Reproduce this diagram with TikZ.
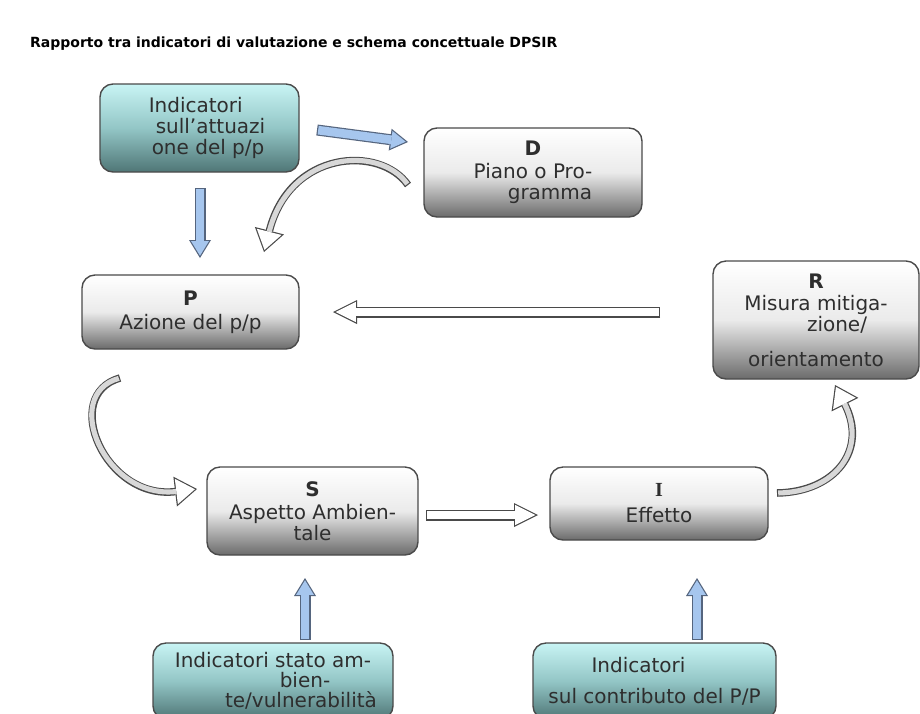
\documentclass[tikz,border=0pt]{standalone}
\usepackage{fontspec}
\setmainfont{DejaVu Sans}
\newfontfamily\serifI{Liberation Serif}
\usetikzlibrary{arrows.meta}
\definecolor{boxline}{HTML}{4A4A4A}
\definecolor{tealtop}{HTML}{C8F4F4}
\definecolor{tealmid}{HTML}{93C6C6}
\definecolor{tealbot}{HTML}{4F7676}
\definecolor{bluefill}{HTML}{A6C6EE}
\definecolor{blueline}{HTML}{55657E}
\definecolor{shaftgray}{HTML}{D8D8D8}
\definecolor{txtcol}{HTML}{2E2E2E}
\begin{document}
\begin{tikzpicture}[x=1pt,y=-1pt,
  basebox/.style={draw=boxline, line width=1.4pt, rounded corners=13pt, align=center, inner sep=0pt,
    text=txtcol, font=\fontsize{20}{21}\selectfont},
  graybox/.style={basebox, top color=white, bottom color=black!58, middle color=black!8},
  tealbox/.style={basebox, top color=tealtop, bottom color=tealbot, middle color=tealmid},
  bluearrow/.style={
    preaction={draw=blueline, line width=11pt, shorten >=0pt, shorten <=0pt,
      -{Triangle[length=18pt,width=22pt,line width=0pt]}},
    draw=bluefill, line width=8.6pt, shorten >=2.3pt, shorten <=1.2pt,
    -{Triangle[length=14.5pt,width=17.7pt,line width=0pt]}},
  hollowstraight/.style={
    preaction={draw=boxline, line width=11pt, shorten >=0pt, shorten <=0pt,
      -{Triangle[length=24pt,width=24pt,line width=0pt]}},
    draw=white, line width=8.6pt, shorten >=2.7pt, shorten <=1.2pt,
    -{Triangle[length=20.1pt,width=20.1pt,line width=0pt]}},
  hollowcurve/.style={
    preaction={draw=boxline, line width=7.5pt, shorten >=0pt, shorten <=0pt,
      -{Triangle[length=22pt,width=30pt,line width=0pt]}},
    draw=shaftgray, line width=5.1pt, shorten >=2.1pt, shorten <=1.2pt,
    -{Triangle[length=18.7pt,width=25.5pt,line width=0pt,fill=white]}}
]
\useasboundingbox (0,0) rectangle (920,713);
\clip (0,0) rectangle (920,713);
\fill[white] (0,0) rectangle (920,713);

% title
\node[anchor=base west, inner sep=0pt, font=\bfseries\fontsize{14}{17}\selectfont] (title) at (30,47)
  {Rapporto tra indicatori di valutazione e schema concettuale DPSIR};

% boxes
\node[tealbox, align=left, minimum width=199pt, minimum height=88pt] (T1) at (199.5,128)
  {\hspace*{15pt}Indicatori\\\hspace*{22pt}sull’attuazi\\\hspace*{18pt}one del p/p};
\node[graybox, minimum width=218pt, minimum height=89pt] (D) at (533,172.5)
  {\textbf{D}\\[2pt]Piano o Pro-\\\hspace*{34pt}gramma};
\node[graybox, minimum width=217pt, minimum height=74pt] (P) at (190.5,312)
  {\textbf{P}\\[3pt]Azione del p/p};
\node[graybox, minimum width=206pt, minimum height=118pt] (R) at (816,320)
  {\textbf{R}\\[1pt]Misura mitiga-\\\hspace*{42pt}zione/\\[14pt]orientamento};
\node[graybox, minimum width=211pt, minimum height=88pt] (S) at (312.5,511)
  {\textbf{S}\\[2pt]Aspetto Ambien-\\tale};
\node[graybox, minimum width=218pt, minimum height=73pt] (I) at (659,503.5)
  {{\serifI\bfseries I}\\[5pt]Effetto};
\node[tealbox, minimum width=240pt, minimum height=76pt] (B1) at (273,681)
  {Indicatori stato am-\\[-1pt]\hspace*{64pt}bien-\\[-1pt]\hspace*{56pt}te/vulnerabilità};
\node[tealbox, minimum width=243pt, minimum height=76pt] (B2) at (654.5,681)
  {Indicatori\hspace*{32pt}\\[10pt]sul contributo del P/P};

% connector end points
\coordinate (a1s) at (317,130);  \coordinate (a1e) at (408,142);
\coordinate (a2s) at (200,188);  \coordinate (a2e) at (200,258);
\coordinate (a3s) at (408,185);  \coordinate (a3e) at (264,252);
\coordinate (a4s) at (660,312);  \coordinate (a4e) at (333,312);
\coordinate (a5s) at (120,378);  \coordinate (a5e) at (197,489);
\coordinate (a6s) at (426,515);  \coordinate (a6e) at (538,515);
\coordinate (a7s) at (777,493);  \coordinate (a7e) at (835,385);
\coordinate (a8s) at (305,640);  \coordinate (a8e) at (305,578);
\coordinate (a9s) at (697,640);  \coordinate (a9e) at (697,578);

% blue arrows
\draw[bluearrow] (a1s) -- (a1e);
\draw[bluearrow] (a2s) -- (a2e);
\draw[bluearrow] (a8s) -- (a8e);
\draw[bluearrow] (a9s) -- (a9e);

% hollow straight arrows
\draw[hollowstraight] (a4s) -- (a4e);
\draw[hollowstraight] (a6s) -- (a6e);

% curved arrows
\draw[hollowcurve] (a3s) .. controls (380,145) and (290,150) .. (a3e);
\draw[hollowcurve] (a5s) .. controls (60,395) and (105,500) .. (a5e);
\draw[hollowcurve] (a7s) .. controls (835,492) and (868,450) .. (a7e);
\end{tikzpicture}
\end{document}
